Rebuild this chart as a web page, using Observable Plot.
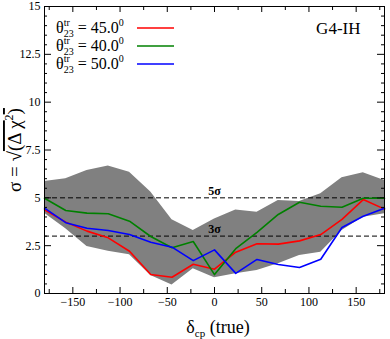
<!DOCTYPE html>
<html><head><meta charset="utf-8">
<script src="https://cdn.jsdelivr.net/npm/d3@7"></script>
<script src="https://cdn.jsdelivr.net/npm/@observablehq/plot@0.6"></script>
<style>body{margin:0;background:#fff} svg{display:block}</style>
</head><body><div id="chart"></div>
<script>
const deltaCP = [-180,-157.5,-135,-112.5,-90,-67.5,-45,-22.5,0,22.5,45,67.5,90,112.5,135,157.5,180];
const sigma45 = [4.37,3.73,3.26,2.91,2.21,0.99,0.85,1.53,1.27,2.16,2.6,2.58,2.75,3.08,3.87,4.91,4.41];
const sigma40 = [4.98,4.34,4.2,4.17,3.78,2.98,2.39,2.72,0.99,2.34,3.2,4.13,4.77,4.56,4.51,4.98,4.98];
const sigma50 = [4.46,3.7,3.41,3.29,3.08,2.68,2.42,1.72,2.28,1.05,1.78,1.52,1.36,1.79,3.45,4.04,4.46];
const bandLow = [4.2,3.38,2.46,2.21,2.02,0.94,0.45,1.29,0.82,1.03,1.2,1.55,1.99,2.16,3.29,3.99,4.17];
const bandHigh = [5.85,6.0,6.43,6.66,6.34,5.3,3.85,3.29,3.9,4.37,4.25,4.86,4.81,5.21,6.05,6.31,5.9];
const xTickLabels = [-150,-100,-50,0,50,100,150];
const yTickLabels = [0,2.5,5,7.5,10,12.5,15];
const sigmaLevels = [3,5];
const seriesNames = ["45.0","40.0","50.0"];
const seriesColors = ["#ff0000","#008000","#0000ff"];
const panelLabel = "G4-IH";

const W = 390, H = 339, mL = 44, mR = 6, mT = 6, mB = 46;
const innerW = W - mL - mR, innerH = H - mT - mB;
const serif = "Liberation Serif, Times New Roman, serif";

const band = deltaCP.map((x, i) => ({x, lo: bandLow[i], hi: bandHigh[i]}));
const seriesVals = [sigma45, sigma40, sigma50];
const lines = seriesVals.flatMap((vals, s) => deltaCP.map((x, i) => ({x, y: vals[i], series: seriesNames[s]})));

const xMajor = d3.range(-150, 151, 50);
const xMinor = d3.range(-175, 180, 25).filter(d => d % 50 !== 0);
const yMajor = d3.range(0, 15.01, 2.5);
const yMinor = d3.range(0.5, 15, 0.5).filter(d => d % 2.5 !== 0);

const chart = Plot.plot({
  width: W, height: H,
  marginLeft: mL, marginRight: mR, marginTop: mT, marginBottom: mB,
  style: {fontFamily: serif, fontSize: "11px", color: "black", background: "white"},
  x: {domain: [-180, 180], axis: null},
  y: {domain: [0, 15], axis: null},
  color: {domain: seriesNames, range: seriesColors},
  marks: [
    Plot.areaY(band, {x: "x", y1: "lo", y2: "hi", fill: "#808080", curve: "linear"}),
    Plot.ruleY(sigmaLevels, {stroke: "black", strokeWidth: 1, strokeDasharray: "5,3"}),
    Plot.text(sigmaLevels, {x: () => 0, y: d => d, text: d => `${d}σ`, dy: -7, fontWeight: "bold", fontSize: 12, fill: "black"}),
    Plot.line(lines, {x: "x", y: "y", z: "series", stroke: "series", strokeWidth: 1.6}),
    Plot.frame({stroke: "black", strokeWidth: 1}),
    Plot.tickX(xMajor, {x: d => d, insetTop: innerH - 6, stroke: "black"}),
    Plot.tickX(xMinor, {x: d => d, insetTop: innerH - 4, stroke: "black"}),
    Plot.tickX(xMajor, {x: d => d, insetBottom: innerH - 6, stroke: "black"}),
    Plot.tickX(xMinor, {x: d => d, insetBottom: innerH - 4, stroke: "black"}),
    Plot.tickY(yMajor, {y: d => d, insetRight: innerW - 7, stroke: "black"}),
    Plot.tickY(yMinor, {y: d => d, insetRight: innerW - 3, stroke: "black"}),
    Plot.tickY(yMajor, {y: d => d, insetLeft: innerW - 7, stroke: "black"}),
    Plot.tickY(yMinor, {y: d => d, insetLeft: innerW - 3, stroke: "black"}),
    Plot.axisX(xTickLabels, {tickSize: 0, tickPadding: 4, label: null, fontSize: 12}),
    Plot.axisY(yTickLabels, {tickSize: 0, tickPadding: 4, label: null, fontSize: 12, tickFormat: d => String(d)}),
    Plot.text([panelLabel], {frameAnchor: "top-right", dx: -24, dy: 15, fontSize: 17, fill: "black", textAnchor: "end", lineAnchor: "top"})
  ]
});

document.getElementById("chart").appendChild(chart);
const svg = d3.select(chart);

// legend
const leg = svg.append("g").attr("font-family", serif).attr("fill", "black").attr("text-anchor", "start");
seriesNames.forEach((name, i) => {
  const base = 33 + i * 18;
  const t = leg.append("text").attr("x", 56).attr("y", base).attr("font-size", 16).attr("text-anchor", "start");
  t.append("tspan").text("θ");
  t.append("tspan").attr("font-size", 10).attr("dy", -7).text("tr");
  t.append("tspan").attr("font-size", 10).attr("dx", -6.1).attr("dy", 11).text("23");
  t.append("tspan").attr("dy", -4).text(" = " + name);
  t.append("tspan").attr("font-size", 10).attr("dy", -7).text("0");
  leg.append("line").attr("x1", 137).attr("x2", 174).attr("y1", base - 5).attr("y2", base - 5)
    .attr("stroke", seriesColors[i]).attr("stroke-width", 1.6);
});

// x label
const xl = svg.append("text").attr("x", 218).attr("y", 333).attr("text-anchor", "middle")
  .attr("font-family", serif).attr("font-size", 18).attr("fill", "black");
xl.append("tspan").text("δ");
xl.append("tspan").attr("font-size", 11).attr("dy", 4).text("cp");
xl.append("tspan").attr("dy", -4).text(" (true)");

// y label
const yl = svg.append("text").attr("transform", "translate(21,150) rotate(-90)").attr("text-anchor", "middle")
  .attr("font-family", serif).attr("font-size", 19).attr("fill", "black");
yl.append("tspan").text("σ = √");
yl.append("tspan").style("text-decoration", "overline").text("(Δ χ");
yl.append("tspan").attr("font-size", 12).attr("dy", -8).text("2");
yl.append("tspan").attr("dy", 8).style("text-decoration", "overline").text(")");
</script>
</body></html>
